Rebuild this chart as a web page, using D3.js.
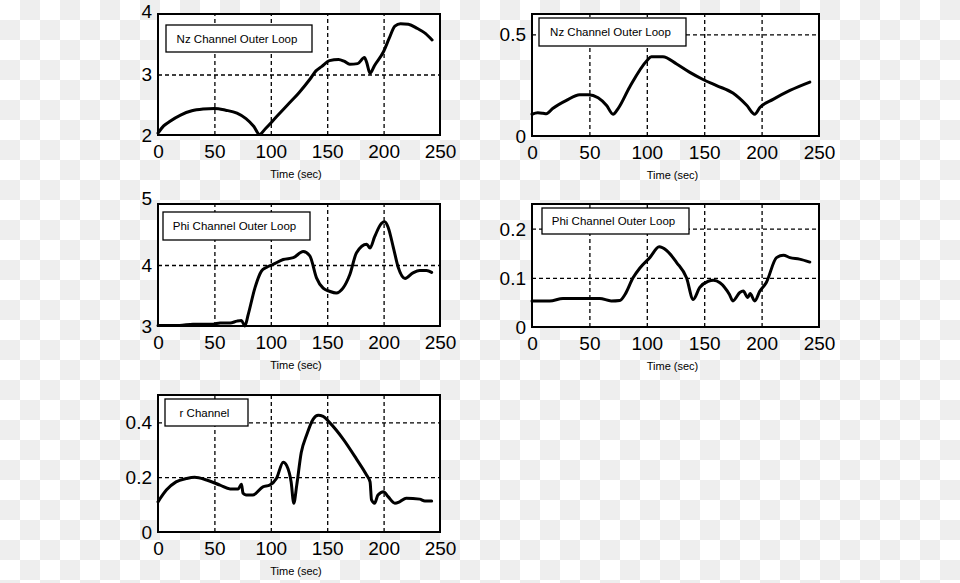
<!DOCTYPE html>
<html>
<head>
<meta charset="utf-8">
<script src="https://cdn.jsdelivr.net/npm/d3@7"></script>
<style>
html,body{margin:0;padding:0;background:#fff;}
svg{display:block;font-family:"Liberation Sans",Arial,Helvetica,sans-serif;}
</style>
</head>
<body>
<svg id="chart" width="960" height="583"></svg>
<script>
// ---- data ----
const xTicks = [0, 50, 100, 150, 200, 250];
const xLabel = "Time (sec)";

const nzOuterT = [0,5,10,20,30,40,50,60,70,78,85,90,95,105,115,125,135,140,145,152,160,165,170,177,183,185,188,192,200,205,210,215,222,230,237,243];
const nzOuterV = [2.03,2.15,2.22,2.33,2.40,2.43,2.44,2.41,2.36,2.27,2.14,2.01,2.10,2.30,2.50,2.70,2.93,3.06,3.13,3.23,3.25,3.22,3.17,3.18,3.28,3.20,3.02,3.15,3.38,3.60,3.80,3.84,3.83,3.76,3.68,3.57];

const nzInnerT = [0,5,9.6,12.5,18,30,41.6,49,57.6,65,70.6,75,85,100,104,114,126,137.5,149,160.8,175,187,194,198.5,210,224.7,242];
const nzInnerV = [0.107,0.114,0.112,0.110,0.135,0.175,0.203,0.203,0.188,0.150,0.107,0.135,0.240,0.370,0.390,0.390,0.354,0.313,0.278,0.248,0.211,0.151,0.107,0.140,0.180,0.224,0.265];

const phiOuterT = [0,19,31,48.8,55,64,70,74,77,80,86,91.7,96,102,111,120,128.7,134.6,140.5,146.4,152,158,164,170,176,185,188,192,198,201,204,208.6,213,219,226,232,238,242.6];
const phiOuterV = [3.01,3.01,3.03,3.03,3.05,3.05,3.08,3.09,3.00,3.19,3.63,3.90,3.96,4.01,4.09,4.12,4.22,4.15,3.79,3.62,3.57,3.54,3.62,3.84,4.20,4.34,4.28,4.46,4.68,4.71,4.62,4.29,3.96,3.78,3.87,3.91,3.91,3.88];

const phiInnerT = [0,15.4,27,49,59,69,76.5,81,88,94,102.6,110.8,117,126,134.6,140.4,146,153.5,158,163.7,172,175,181,184,188,190,194,198.5,204,213,219,224.7,233,242];
const phiInnerV = [0.053,0.053,0.058,0.058,0.058,0.053,0.054,0.066,0.100,0.120,0.141,0.163,0.156,0.131,0.100,0.056,0.080,0.093,0.095,0.090,0.066,0.053,0.070,0.073,0.060,0.068,0.053,0.073,0.090,0.141,0.146,0.141,0.138,0.132];

const rChanT = [0,7.4,16,25,32.5,43,55,64,71,74,75.4,78,84,93,99,105,111,114,118,120.4,123,127,131.6,137.6,142,146.4,152,164,176,185,188,189.3,192,195,200,204,210,214.5,220,232,236.6,242.6];
const rChanV = [0.110,0.153,0.183,0.195,0.200,0.190,0.171,0.157,0.157,0.174,0.141,0.135,0.135,0.165,0.171,0.195,0.255,0.243,0.183,0.105,0.171,0.290,0.352,0.412,0.426,0.422,0.400,0.340,0.266,0.207,0.183,0.117,0.105,0.135,0.147,0.129,0.105,0.111,0.123,0.120,0.113,0.113];

const panelTitles = ["Nz Channel Outer Loop", "Nz Channel Outer Loop", "Phi Channel Outer Loop", "Phi Channel Outer Loop", "r Channel"];
const yDomains = [[2,4],[0,0.6],[3,5],[0,0.25],[0,0.5]];
const yTicks = [[2,3,4],[0,0.5],[3,4,5],[0,0.1,0.2],[0,0.2,0.4]];
const seriesT = [nzOuterT, nzInnerT, phiOuterT, phiInnerT, rChanT];
const seriesV = [nzOuterV, nzInnerV, phiOuterV, phiInnerV, rChanV];

// ---- layout ----
const boxes = [
  {x0:158, x1:440, y0:14,  y1:135, lg:{x:166, y:25,  w:146, h:27}},
  {x0:532, x1:819, y0:14,  y1:136, lg:{x:539, y:18,  w:147, h:28}},
  {x0:158, x1:440, y0:204, y1:326, lg:{x:163, y:212, w:147, h:28}},
  {x0:532, x1:819, y0:204, y1:327, lg:{x:542, y:208, w:147, h:26}},
  {x0:158, x1:440, y0:395, y1:532, lg:{x:165, y:399, w:83,  h:27}}
];

const svg = d3.select("#chart");

// checkerboard background
const defs = svg.append("defs");
const pat = defs.append("pattern").attr("id","checker")
  .attr("width",40).attr("height",40).attr("patternUnits","userSpaceOnUse");
pat.append("rect").attr("width",40).attr("height",40).attr("fill","#ffffff");
pat.append("rect").attr("x",20).attr("y",0).attr("width",20).attr("height",20).attr("fill","#eeeeee");
pat.append("rect").attr("x",0).attr("y",20).attr("width",20).attr("height",20).attr("fill","#eeeeee");
svg.append("rect").attr("width",960).attr("height",583).attr("fill","url(#checker)");

const fmt = v => (v === 0 ? "0" : String(v));
const TICK_FS = 19;

boxes.forEach((b, i) => {
  const x = d3.scaleLinear().domain([0, 250]).range([b.x0, b.x1]);
  const y = d3.scaleLinear().domain(yDomains[i]).range([b.y1, b.y0]);
  const g = svg.append("g");

  // plot area
  g.append("rect").attr("x", b.x0).attr("y", b.y0)
    .attr("width", b.x1 - b.x0).attr("height", b.y1 - b.y0)
    .attr("fill", "#fff");

  // grid lines
  const xg = d3.axisBottom(x).tickValues(xTicks.filter(t => t > 0 && t < 250))
    .tickSize(-(b.y1 - b.y0)).tickFormat("");
  g.append("g").attr("transform", `translate(0,${b.y1})`).call(xg)
    .call(s => s.select(".domain").remove())
    .call(s => s.selectAll("line").attr("stroke","#000").attr("stroke-width",1.3).attr("stroke-dasharray","4,3"));
  const dMax = yDomains[i][1], dMin = yDomains[i][0];
  const yg = d3.axisLeft(y).tickValues(yTicks[i].filter(t => t > dMin && t < dMax))
    .tickSize(-(b.x1 - b.x0)).tickFormat("");
  g.append("g").attr("transform", `translate(${b.x0},0)`).call(yg)
    .call(s => s.select(".domain").remove())
    .call(s => s.selectAll("line").attr("stroke","#000").attr("stroke-width",1.3).attr("stroke-dasharray","4,3"));

  // x tick labels
  const xa = d3.axisBottom(x).tickValues(xTicks).tickSize(0).tickPadding(0).tickFormat(fmt);
  g.append("g").attr("transform", `translate(0,${b.y1})`).call(xa)
    .call(s => s.select(".domain").remove())
    .call(s => s.selectAll("text").attr("font-size", TICK_FS).attr("fill","#000")
       .attr("font-family","Liberation Sans, Arial, sans-serif")
       .attr("dy", null).attr("y", 23));

  // y tick labels (the top one sits a little higher, as in the reference, but stays inside the page)
  const ya = d3.axisLeft(y).tickValues(yTicks[i]).tickSize(0).tickPadding(6).tickFormat(fmt);
  g.append("g").attr("transform", `translate(${b.x0},0)`).call(ya)
    .call(s => s.select(".domain").remove())
    .call(s => s.selectAll("text").attr("font-size", TICK_FS).attr("fill","#000")
       .attr("font-family","Liberation Sans, Arial, sans-serif")
       .attr("dy", d => d === dMax
          ? Math.max(0.3, 0.92 * TICK_FS + 0.5 - y(d)) + "px"
          : "0.34em"));

  // axis label
  g.append("text").attr("x", (b.x0 + b.x1)/2 - 3).attr("y", b.y1 + 42.5)
    .attr("text-anchor","middle").attr("font-size", 11).attr("fill","#000")
    .text(xLabel);

  // data line
  const pts = seriesT[i].map((t, k) => [t, seriesV[i][k]]);
  const line = d3.line().x(d => x(d[0])).y(d => y(d[1])).curve(d3.curveMonotoneX);
  g.append("path").datum(pts).attr("d", line)
    .attr("fill","none").attr("stroke","#000").attr("stroke-width",3)
    .attr("stroke-linejoin","round").attr("stroke-linecap","round");

  // frame
  g.append("rect").attr("x", b.x0).attr("y", b.y0)
    .attr("width", b.x1 - b.x0).attr("height", b.y1 - b.y0)
    .attr("fill", "none").attr("stroke","#000").attr("stroke-width",2);

  // legend box
  g.append("rect").attr("x", b.lg.x).attr("y", b.lg.y).attr("width", b.lg.w).attr("height", b.lg.h)
    .attr("fill","#fff").attr("stroke","#000").attr("stroke-width",1.3);
  g.append("text").attr("x", b.lg.x + b.lg.w/2 - 2).attr("y", b.lg.y + b.lg.h/2 + 4)
    .attr("text-anchor","middle").attr("font-size", 11.5).attr("fill","#000")
    .text(panelTitles[i]);
});
</script>
</body>
</html>
